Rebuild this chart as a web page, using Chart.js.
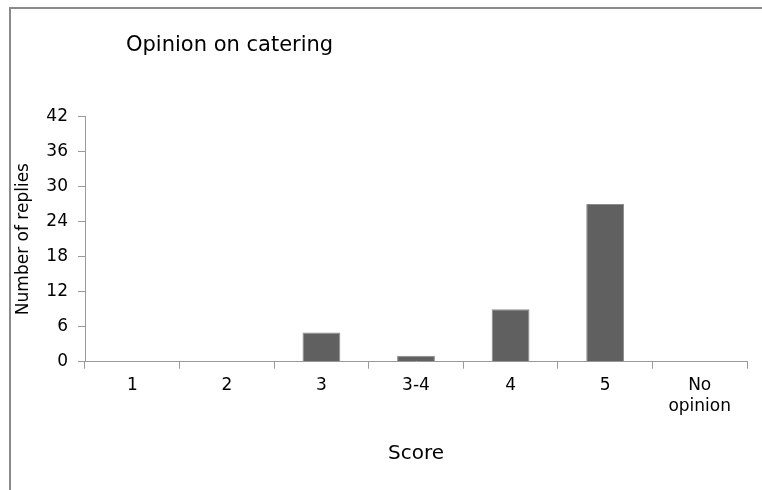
<!DOCTYPE html>
<html>
<head>
<meta charset="utf-8">
<script src="https://cdn.jsdelivr.net/npm/chart.js@4/dist/chart.umd.min.js"></script>
<style>
  html, body { margin: 0; padding: 0; background: #fff; overflow: hidden; }
  #wrap { position: relative; width: 762px; height: 490px; }
  #c { display: block; }
</style>
</head>
<body>
<div id="wrap"><canvas id="c" width="762" height="490"></canvas></div>
<script>
// ---- data ----
const chartTitle = 'Opinion on catering';
const categories = ['1', '2', '3', '3-4', '4', '5', ['No', 'opinion']];
const replies = [0, 0, 5, 1, 9, 27, 0];
const yTickValues = [0, 6, 12, 18, 24, 30, 36, 42];
const xAxisTitle = 'Score';
const yAxisTitle = 'Number of replies';

const FONT = '"DejaVu Sans", "Liberation Sans", Arial, sans-serif';
const AXIS_GRAY = '#9a9a9a';
const TEXT = '#000';

const framePlugin = {
  id: 'frame',
  beforeDraw(chart) {
    const ctx = chart.ctx;
    ctx.save();
    ctx.fillStyle = '#fff';
    ctx.fillRect(0, 0, chart.width, chart.height);
    ctx.fillStyle = '#8a8a8a';
    ctx.fillRect(9, 7, chart.width - 9, 2);
    ctx.fillRect(9, 7, 2, chart.height - 7);
    ctx.restore();
  },
  afterDraw(chart) {
    const ctx = chart.ctx;
    ctx.save();
    ctx.font = '21px ' + FONT;
    ctx.fillStyle = TEXT;
    ctx.textAlign = 'left';
    ctx.textBaseline = 'alphabetic';
    ctx.fillText(chartTitle, 126, 51);
    ctx.restore();
  }
};

new Chart(document.getElementById('c'), {
  type: 'bar',
  data: {
    labels: categories,
    datasets: [{
      data: replies,
      backgroundColor: '#606060',
      borderColor: '#8c8c8c',
      borderWidth: 1,
      barPercentage: 0.4,
      categoryPercentage: 1.0
    }]
  },
  options: {
    responsive: false,
    animation: false,
    devicePixelRatio: 1,
    layout: { padding: { top: 116.5, right: 15, bottom: 0, left: 0 } },
    plugins: {
      legend: { display: false },
      title: { display: false },
      tooltip: { enabled: false }
    },
    scales: {
      x: {
        grid: { offset: true, drawOnChartArea: false, drawTicks: true, tickLength: 7, color: AXIS_GRAY },
        border: { color: AXIS_GRAY, width: 1 },
        ticks: { font: { family: FONT, size: 17, lineHeight: 1.25 }, color: TEXT, padding: 6.5, maxRotation: 0, autoSkip: false },
        title: { display: true, text: xAxisTitle, font: { family: FONT, size: 20 }, color: TEXT, padding: { top: 0, bottom: 24 } },
        afterFit(scale) { scale.height = 128.3; }
      },
      y: {
        min: 0,
        max: 42,
        afterBuildTicks(scale) { scale.ticks = yTickValues.map(v => ({ value: v })); },
        grid: { drawOnChartArea: false, drawTicks: true, tickLength: 7, color: AXIS_GRAY },
        border: { color: AXIS_GRAY, width: 1 },
        ticks: { font: { family: FONT, size: 17 }, color: TEXT, padding: 10 },
        title: { display: true, text: yAxisTitle, font: { family: FONT, size: 17 }, color: TEXT, padding: { top: 13.6, bottom: 0 } },
        afterFit(scale) { scale.width = 85; }
      }
    }
  },
  plugins: [framePlugin]
});
</script>
</body>
</html>
